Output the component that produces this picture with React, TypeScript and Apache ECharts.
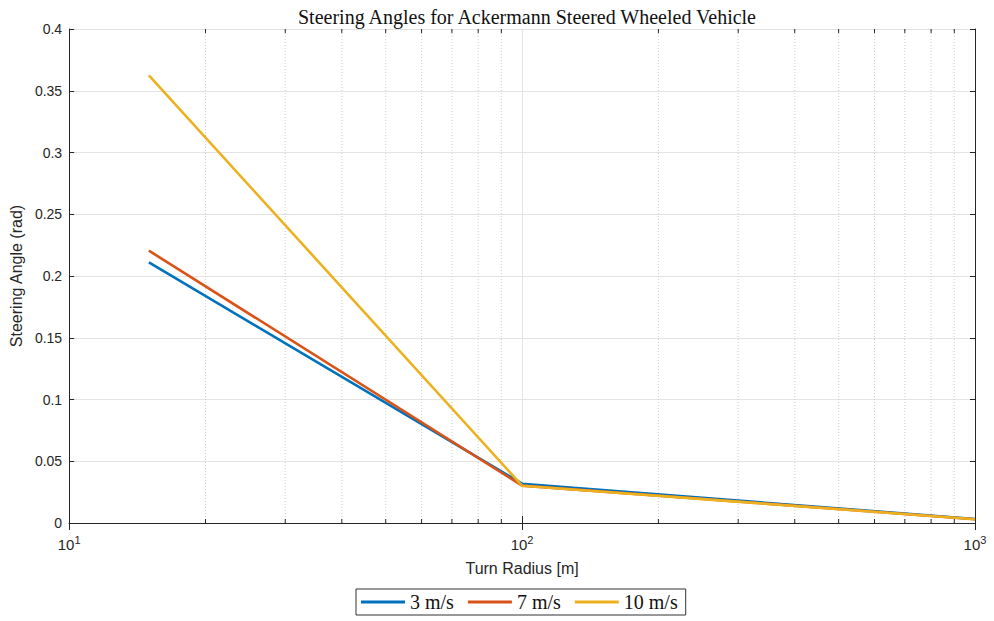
import React, { useEffect, useRef } from "react";
import * as echarts from "echarts";

const radius = [15, 100, 1000];
const s3 = [0.211, 0.0318, 0.0032];
const s7 = [0.2205, 0.0303, 0.0031];
const s10 = [0.3625, 0.0302, 0.003];
const seriesNames = ["3 m/s", "7 m/s", "10 m/s"];
const colors = ["#0072BD", "#D95319", "#EDB120"];
const minorTicks = [20, 30, 40, 50, 60, 70, 80, 90, 200, 300, 400, 500, 600, 700, 800, 900];
const yMin = 0;
const yMax = 0.4;
const yStep = 0.05;

const AXIS = "#262626";

export default function App() {
  const ref = useRef<HTMLDivElement>(null);
  useEffect(() => {
    const chart = echarts.init(ref.current!, null, { renderer: "svg" });
    const values = [s3, s7, s10];
    const lineSeries = seriesNames.map((name, i) => ({
      name,
      type: "line",
      xAxisIndex: 0,
      yAxisIndex: 0,
      data: radius.map((r, k) => [r, values[i][k]]),
      showSymbol: false,
      symbol: "none",
      lineStyle: { width: 2.6, color: colors[i] },
      itemStyle: { color: colors[i] },
      z: 5 + i,
    }));
    chart.setOption({
      animation: false,
      backgroundColor: "#fff",
      title: {
        text: "Steering Angles for Ackermann Steered Wheeled Vehicle",
        left: 522,
        textAlign: "center",
        top: 2,
        textStyle: {
          fontFamily: "Liberation Serif",
          fontWeight: "normal",
          fontSize: 20,
          color: "#111",
        },
      },
      grid: { left: 69, right: 19, top: 29, bottom: 98, containLabel: false },
      legend: {
        data: seriesNames,
        left: 356,
        top: 589,
        icon: "rect",
        itemWidth: 44,
        itemHeight: 3,
        itemGap: 14,
        padding: [3, 8, 3, 5],
        borderColor: "#333",
        borderWidth: 1,
        backgroundColor: "#fff",
        textStyle: { fontFamily: "Liberation Serif", fontSize: 20, color: "#111" },
      },
      xAxis: [
        {
          type: "log",
          logBase: 10,
          min: 10,
          max: 1000,
          position: "bottom",
          name: "Turn Radius [m]",
          nameLocation: "middle",
          nameGap: 37,
          nameTextStyle: { fontFamily: "Liberation Sans", fontSize: 16, color: "#262626" },
          axisLine: { show: true, lineStyle: { color: AXIS, width: 1 } },
          axisTick: { show: true, inside: true, length: 7, lineStyle: { color: AXIS } },
          splitLine: { show: true, lineStyle: { color: "#e3e3e3", width: 1 } },
          axisLabel: {
            margin: 11,
            showMinLabel: true,
            showMaxLabel: true,
            formatter: (v: number) => `{b|10}{s|${Math.round(Math.log10(v))}}`,
            rich: {
              b: { fontFamily: "Liberation Sans", fontSize: 15, lineHeight: 18, color: "#262626", verticalAlign: "bottom" },
              s: { fontFamily: "Liberation Sans", fontSize: 11, lineHeight: 11, color: "#262626", verticalAlign: "top" },
            },
          },
        },
        {
          type: "log",
          logBase: 10,
          min: 10,
          max: 1000,
          position: "top",
          axisLine: { show: true, lineStyle: { color: AXIS, width: 1 } },
          axisTick: { show: true, inside: true, length: 7, lineStyle: { color: AXIS } },
          axisLabel: { show: false },
          splitLine: { show: false },
        },
      ],
      yAxis: [
        {
          type: "value",
          min: yMin,
          max: yMax,
          interval: yStep,
          position: "left",
          name: "Steering Angle (rad)",
          nameLocation: "middle",
          nameGap: 44,
          nameTextStyle: { fontFamily: "Liberation Sans", fontSize: 16, color: "#262626" },
          axisLine: { show: true, lineStyle: { color: AXIS, width: 1 } },
          axisTick: { show: true, inside: true, length: 5, lineStyle: { color: AXIS } },
          splitLine: { show: true, lineStyle: { color: "#e3e3e3", width: 1 } },
          axisLabel: { margin: 7, fontFamily: "Liberation Sans", fontSize: 14, color: "#262626" },
        },
        {
          type: "value",
          min: yMin,
          max: yMax,
          interval: yStep,
          position: "right",
          axisLine: { show: true, lineStyle: { color: AXIS, width: 1 } },
          axisTick: { show: true, inside: true, length: 5, lineStyle: { color: AXIS } },
          splitLine: { show: false },
          axisLabel: { show: false },
        },
      ],
      series: [
        {
          type: "custom",
          name: "minor",
          xAxisIndex: 0,
          yAxisIndex: 0,
          silent: true,
          z: 1,
          data: minorTicks.map((v) => [v, yMin]),
          encode: { x: 0, y: 1 },
          renderItem: (params: any, api: any) => {
            const v = api.value(0);
            const b = api.coord([v, yMin]);
            const t = api.coord([v, yMax]);
            return {
              type: "group",
              children: [
                {
                  type: "line",
                  shape: { x1: b[0], y1: b[1], x2: t[0], y2: t[1] },
                  style: { stroke: "#cfcfcf", lineWidth: 1, lineDash: [1, 2] },
                },
                {
                  type: "line",
                  shape: { x1: b[0], y1: b[1], x2: b[0], y2: b[1] - 4 },
                  style: { stroke: AXIS, lineWidth: 1 },
                },
                {
                  type: "line",
                  shape: { x1: t[0], y1: t[1], x2: t[0], y2: t[1] + 4 },
                  style: { stroke: AXIS, lineWidth: 1 },
                },
              ],
            };
          },
        },
        ...lineSeries,
      ],
    });
    return () => chart.dispose();
  }, []);
  return (
    <div
      ref={ref}
      style={{ position: "fixed", left: 0, top: 0, width: 994, height: 621, background: "#fff" }}
    />
  );
}
